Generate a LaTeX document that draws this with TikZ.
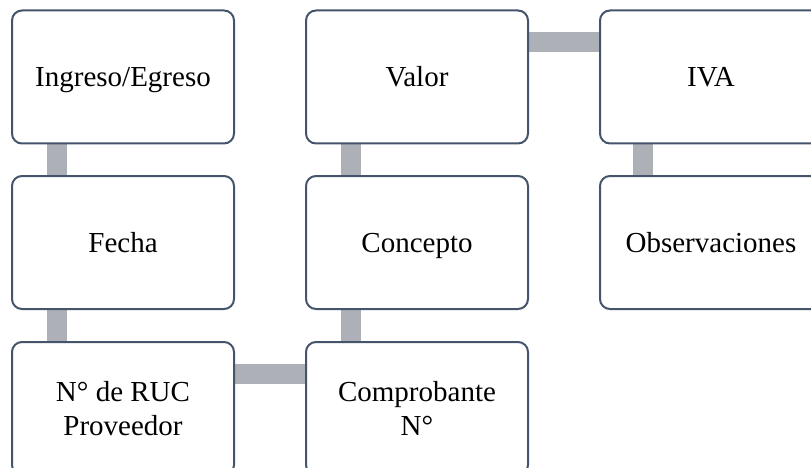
\documentclass[tikz,border=0pt]{standalone}
\usepackage{fontspec}
\setmainfont{Liberation Serif}
\usetikzlibrary{backgrounds}
\definecolor{boxline}{HTML}{44546A}
\definecolor{connfill}{HTML}{ADB0B7}
\begin{document}
\begin{tikzpicture}[x=1pt,y=-1pt,
  box/.style={draw=boxline, line width=2pt, fill=white, rounded corners=10pt,
    minimum width=222pt, minimum height=133pt, align=center,
    font=\fontsize{29}{33.5}\selectfont, inner sep=2pt},
  onel/.style={box, text height=22pt, text depth=2pt},
  conn/.style={draw=connfill, line width=20pt}]
\useasboundingbox (0,0) rectangle (811,468);
\node[onel] (ing) at (123,77) {Ingreso/Egreso};
\node[onel] (fec) at (123,242.5) {Fecha};
\node[box] (ruc) at (123,408.5) {N° de RUC\\Proveedor};
\node[onel] (val) at (417,77) {Valor};
\node[onel] (con) at (417,242.5) {Concepto};
\node[box] (com) at (417,408.5) {Comprobante\\N°};
\node[onel] (iva) at (711,77) {IVA};
\node[onel] (obs) at (711,242.5) {Observaciones};
\begin{scope}[on background layer]
\draw[conn] ([xshift=46pt]ing.south west) -- ([xshift=46pt]fec.north west);
\draw[conn] ([xshift=46pt]fec.south west) -- ([xshift=46pt]ruc.north west);
\draw[conn] ([yshift=-33pt]ruc.north east) -- ([yshift=-33pt]com.north west);
\draw[conn] ([xshift=46pt]com.north west) -- ([xshift=46pt]con.south west);
\draw[conn] ([xshift=46pt]con.north west) -- ([xshift=46pt]val.south west);
\draw[conn] ([yshift=-33pt]val.north east) -- ([yshift=-33pt]iva.north west);
\draw[conn] ([xshift=44pt]iva.south west) -- ([xshift=44pt]obs.north west);
\end{scope}
\end{tikzpicture}
\end{document}
